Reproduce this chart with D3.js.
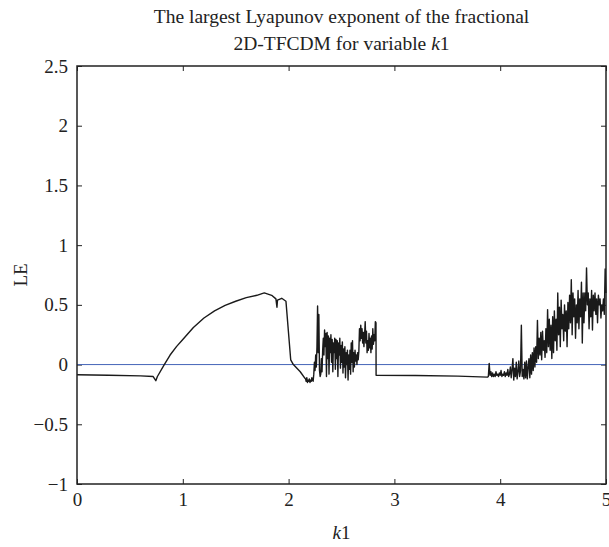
<!DOCTYPE html>
<html>
<head>
<meta charset="utf-8">
<script src="https://cdn.jsdelivr.net/npm/d3@7"></script>
<style>
  body { margin: 0; background: #fff; }
  svg text { font-family: "Liberation Serif", "DejaVu Serif", serif; fill: #222; }
</style>
</head>
<body>
<div id="chart-container"></div>
<script>
// smooth part of the curve, k1 from 0 up to the first chaotic band
var smoothK  = [0, 0.3, 0.6, 0.72, 0.745, 0.76, 0.825, 0.88, 0.94, 1.0, 1.1, 1.2, 1.3, 1.4, 1.5, 1.6, 1.7, 1.77, 1.84, 1.88, 1.89, 1.895, 1.935, 1.975, 1.997, 2.02, 2.045, 2.11, 2.155];
var smoothLE = [-0.085, -0.09, -0.095, -0.10, -0.135, -0.10, 0, 0.08, 0.15, 0.21, 0.31, 0.39, 0.45, 0.495, 0.53, 0.56, 0.58, 0.60, 0.58, 0.55, 0.48, 0.54, 0.555, 0.53, 0.29, 0.04, 0.0, -0.06, -0.115];

// first chaotic band, sampled every 0.006 from k1 = 2.16
var chaosAStart = 2.16, chaosAStep = 0.006;
var chaosALE = [-0.12, -0.14, -0.11, -0.15, -0.13, -0.14, -0.12, -0.15, -0.13, -0.14, -0.11, -0.13, -0.14,
  -0.08, 0.02, -0.05, 0.08, -0.02, 0.15, 0.49, 0.10, 0.42, -0.05, -0.10, -0.08, 0.05, -0.06, 0.12, 0.22,
  0.08, 0.29, 0.15, 0.26, -0.10, 0.27, 0.05, 0.24, -0.08, 0.22, 0.10, 0.25, 0.02, 0.21, -0.06, 0.18,
  0.10, 0.22, -0.04, 0.21, 0.05, 0.20, -0.10, 0.18, 0.08, 0.22, -0.03, 0.16, 0.02, 0.19, -0.07, 0.13,
  -0.02, 0.15, -0.11, 0.10, 0.0, 0.12, -0.13, 0.08, -0.04, 0.12, -0.08, 0.18, 0.02, 0.20, -0.06, 0.10,
  -0.02, 0.12, 0.03, 0.08, 0.0, 0.10, 0.04, 0.11, 0.30, 0.20, 0.33, 0.22, 0.30, 0.18, 0.27, 0.15, 0.24,
  0.36, 0.18, 0.28, 0.10, 0.20, 0.12, 0.26, 0.14, 0.22, 0.10, 0.24, 0.13, 0.30, 0.17, 0.25, 0.20, 0.36, 0.35];

// flat stretch after the drop at k1 = 2.83
var flatK  = [2.827, 3.2, 3.6, 3.88];
var flatLE = [-0.09, -0.092, -0.097, -0.105];

// second chaotic band, sampled every 0.008 from k1 = 3.888
var chaosBStart = 3.888, chaosBStep = 0.008;
var chaosBLE = [-0.10, 0.01, -0.09, -0.06, -0.10, -0.07, -0.10, -0.08, -0.10, -0.06, -0.09, -0.08, -0.10,
  -0.07, -0.09, -0.05, -0.10, -0.08, -0.09, -0.06, -0.10, -0.07, -0.09, -0.04, -0.10, -0.08, -0.02,
  -0.11, -0.04, 0.05, -0.13, -0.03, -0.10, 0.02, -0.12, -0.06, 0.03, -0.10, -0.05, 0.33, -0.10, -0.04,
  -0.12, 0.02, -0.11, 0.03, -0.12, -0.02, 0.05, -0.11, 0.08, -0.08, 0.10, -0.05, 0.14, -0.02, 0.15,
  0.02, 0.37, 0.05, 0.22, 0.08, 0.27, 0.04, 0.28, 0.12, 0.20, 0.06, 0.30, 0.10, 0.46, 0.15, 0.38, 0.12,
  0.33, 0.05, 0.40, 0.10, 0.45, 0.20, 0.38, 0.12, 0.60, 0.25, 0.48, 0.15, 0.54, 0.30, 0.42, 0.20, 0.50,
  0.28, 0.45, 0.15, 0.52, 0.30, 0.58, 0.35, 0.71, 0.25, 0.60, 0.40, 0.55, 0.22, 0.50, 0.35, 0.62, 0.30,
  0.55, 0.40, 0.69, 0.18, 0.60, 0.35, 0.60, 0.45, 0.81, 0.50, 0.60, 0.30, 0.55, 0.40, 0.62, 0.29, 0.58,
  0.45, 0.60, 0.42, 0.55, 0.35, 0.58, 0.50, 0.55, 0.39, 0.50, 0.45, 0.55, 0.42, 0.80, 0.60];

var xTicks = [0, 1, 2, 3, 4, 5];
var yTicks = [-1, -0.5, 0, 0.5, 1, 1.5, 2, 2.5];
var titleLines = ["The largest Lyapunov exponent of the fractional", "2D-TFCDM for variable "];

var margin = {top: 66, right: 3, bottom: 63, left: 77},
    width = 609 - margin.left - margin.right,
    height = 547 - margin.top - margin.bottom;

var svg = d3.select("#chart-container").append("svg").attr("width", 609).attr("height", 547)
var g = svg.append("g").attr("transform", "translate(" + margin.left + "," + margin.top + ")")

var x = d3.scaleLinear().domain([0, 5]).range([0, width]);
var y = d3.scaleLinear().domain([-1, 2.5]).range([height, 0]);

// build the series
var series = [];
smoothK.forEach(function(k, i) { series.push([k, smoothLE[i]]) });
chaosALE.forEach(function(v, i) { series.push([chaosAStart + i * chaosAStep, v]) });
flatK.forEach(function(k, i) { series.push([k, flatLE[i]]) });
chaosBLE.forEach(function(v, i) { series.push([chaosBStart + i * chaosBStep, v]) });

var fmt = function(d) { return d < 0 ? "\u2212" + Math.abs(d) : "" + d; };

// axes, ticks pointing inwards, mirrored on top and right
var xAxis = d3.axisBottom(x).tickValues(xTicks).tickSize(-5).tickPadding(9).tickFormat(fmt);
var yAxis = d3.axisLeft(y).tickValues(yTicks).tickSize(-5).tickPadding(9).tickFormat(fmt);
g.append("g").attr("transform", "translate(0," + height + ")").call(xAxis);
g.append("g").call(yAxis);
g.append("g").call(d3.axisTop(x).tickValues(xTicks).tickSize(-5).tickFormat(""));
g.append("g").attr("transform", "translate(" + width + ",0)").call(d3.axisRight(y).tickValues(yTicks).tickSize(-5).tickFormat(""));
g.selectAll(".domain").remove();
g.selectAll(".tick line").attr("stroke", "#222").attr("stroke-width", 1);
g.selectAll(".tick text").style("font-size", "19px").style("font-family", "Liberation Serif").attr("fill", "#222");

// zero reference line
g.append("line")
  .attr("x1", x(0)).attr("x2", x(5))
  .attr("y1", y(0)).attr("y2", y(0))
  .attr("stroke", "#4565b8").attr("stroke-width", 1);

var line = d3.line().x(function(d) { return x(d[0]) }).y(function(d) { return y(d[1]) });
g.append("path").datum(series)
  .attr("d", line)
  .attr("fill", "none")
  .attr("stroke", "#1a1a1a")
  .attr("stroke-width", 1.4)
  .attr("stroke-linejoin", "round");

// frame
g.append("rect").attr("width", width).attr("height", height)
  .attr("fill", "none").attr("stroke", "#222").attr("stroke-width", 1.5);

// title
var title = svg.append("text").attr("text-anchor", "middle").style("font-size", "19.5px");
title.append("tspan").attr("x", margin.left + width / 2).attr("y", 23).text(titleLines[0]);
var t2 = title.append("tspan").attr("x", margin.left + width / 2).attr("y", 50).text(titleLines[1]);
title.append("tspan").style("font-style", "italic").text("k");
title.append("tspan").text("1");

// axis labels
var xl = svg.append("text").attr("text-anchor", "middle").attr("x", margin.left + width / 2).attr("y", 539).style("font-size", "19px");
xl.append("tspan").style("font-style", "italic").text("k");
xl.append("tspan").text("1");

svg.append("text").attr("text-anchor", "middle")
  .attr("transform", "translate(27," + (margin.top + height / 2) + ") rotate(-90)")
  .style("font-size", "19px").text("LE");
</script>
</body>
</html>
